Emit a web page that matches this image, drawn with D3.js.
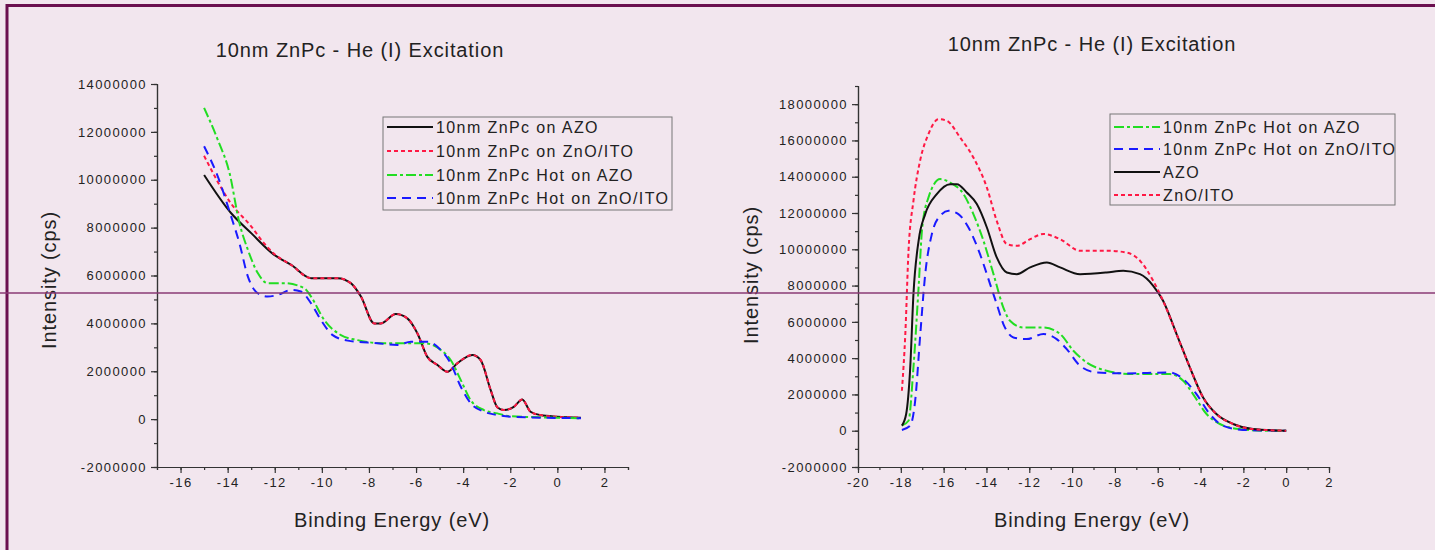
<!DOCTYPE html>
<head>
  <meta charset="utf-8">
  <script src="https://d3js.org/d3.v7.min.js"></script>
  <style>
    body { margin: 0; background: #f2e6ee; }
    text { font-family: 'Liberation Sans', Arial, sans-serif; fill: #222; }
    .tick text { font-size: 13px; letter-spacing: 1.4px; }
    .axis path, .axis line { stroke: #333; stroke-width: 1.2; }
    .title { font-size: 20px; letter-spacing: 0.9px; }
    .label { font-size: 20px; letter-spacing: 0.9px; }
    .legend text { font-size: 16px; letter-spacing: 1.4px; }
    .curve { fill: none; stroke-width: 2; }
  </style>
</head>
<body>
  <script>
    // values in millions of cps, x in eV
    var leftAzo = [[-15, 10.2], [-13.85, 8.6], [-13, 7.77], [-12.02, 6.86], [-11.3, 6.44], [-10.46, 5.89],
      [-9.33, 5.89], [-8.77, 5.68], [-8.34, 5.12], [-7.78, 4.0], [-7.5, 4.0], [-6.86, 4.39], [-6.37, 4.21],
      [-5.94, 3.58], [-5.52, 2.6], [-5.09, 2.26], [-4.67, 1.98], [-4.25, 2.33], [-3.61, 2.68], [-3.26, 2.47],
      [-2.83, 1.21], [-2.55, 0.5], [-2.27, 0.38], [-1.85, 0.51], [-1.49, 0.82], [-1.14, 0.31], [-0.72, 0.17],
      [0, 0.1], [1, 0.06]];
    var leftZnoIto = [[-15, 11.0], [-13.85, 9.0], [-13, 8.05], [-12.5, 7.4], [-12.02, 6.9], [-11.3, 6.44],
      [-10.46, 5.89], [-9.33, 5.89], [-8.77, 5.68], [-8.34, 5.12], [-7.78, 4.0], [-7.5, 4.0], [-6.86, 4.39],
      [-6.37, 4.21], [-5.94, 3.58], [-5.52, 2.6], [-5.09, 2.26], [-4.67, 1.98], [-4.25, 2.33], [-3.61, 2.68],
      [-3.26, 2.47], [-2.83, 1.21], [-2.55, 0.5], [-2.27, 0.38], [-1.85, 0.51], [-1.49, 0.82], [-1.14, 0.31],
      [-0.72, 0.17], [0, 0.1], [1, 0.06]];
    var leftHotAzo = [[-15, 13.0], [-14.42, 11.67], [-13.92, 10.28], [-13.5, 8.19], [-13.14, 7.07], [-12.72, 6.1],
      [-12.3, 5.68], [-11.6, 5.68], [-10.75, 5.47], [-10.46, 5.12], [-9.9, 4.14], [-9.19, 3.51], [-8.48, 3.3],
      [-7.36, 3.17], [-6.51, 3.17], [-5.66, 3.17], [-4.95, 2.89], [-4.53, 2.47], [-4.1, 1.63], [-3.68, 0.79],
      [-3.12, 0.38], [-2.55, 0.24], [-2, 0.12], [0, 0.06], [1, 0.04]];
    var leftHotZnoIto = [[-15, 11.4], [-14.42, 10.14], [-13.85, 8.46], [-13.5, 7.35], [-13.14, 5.95], [-12.72, 5.26],
      [-12.3, 5.12], [-11.87, 5.19], [-11.3, 5.4], [-10.89, 5.33], [-10.46, 4.84], [-10.04, 4.14], [-9.54, 3.51],
      [-8.9, 3.28], [-7.64, 3.17], [-6.79, 3.1], [-6.22, 3.23], [-5.52, 3.23], [-4.95, 2.89], [-4.53, 2.33],
      [-4.1, 1.35], [-3.68, 0.66], [-3.12, 0.31], [-2.55, 0.17], [-2, 0.1], [0, 0.05], [1, 0.04]];

    var rightHotAzo = [[-17.95, 0.28], [-17.64, 0.55], [-17.41, 3.49], [-17.17, 7.9], [-17.0, 11.2], [-16.71, 12.85],
      [-16.16, 13.87], [-15.7, 13.68], [-15.07, 13.04], [-14.61, 11.94], [-14.14, 10.47], [-13.67, 8.63],
      [-13.21, 6.79], [-12.9, 6.06], [-12.28, 5.69], [-11.34, 5.69], [-10.56, 5.33], [-9.94, 4.41], [-9.32, 3.76],
      [-8.39, 3.31], [-7.15, 3.12], [-5.43, 3.12], [-4.81, 2.75], [-4.35, 2.02], [-3.72, 0.92], [-3.1, 0.37],
      [-2.17, 0.09], [-0.92, 0.0], [0, 0.0]];
    var rightHotZnoIto = [[-17.95, 0.04], [-17.56, 0.28], [-17.33, 1.65], [-17.09, 5.33], [-16.86, 8.63], [-16.55, 10.84],
      [-16.16, 11.85], [-15.77, 12.12], [-15.31, 11.94], [-14.84, 11.2], [-14.3, 9.73], [-13.83, 8.08], [-13.52, 6.98],
      [-13.21, 5.88], [-12.74, 5.14], [-12.12, 5.05], [-11.34, 5.33], [-10.72, 5.05], [-10.25, 4.5], [-9.63, 3.58],
      [-8.85, 3.21], [-7.45, 3.16], [-5.43, 3.21], [-4.81, 2.85], [-4.19, 2.02], [-3.57, 0.92], [-2.95, 0.28],
      [-2.02, 0.04], [0, 0.0]];
    var rightAzo = [[-17.95, 0.28], [-17.75, 0.92], [-17.56, 3.49], [-17.41, 7.53], [-17.17, 10.47], [-16.86, 11.94],
      [-16.32, 13.04], [-15.7, 13.59], [-15.38, 13.59], [-14.92, 13.13], [-14.45, 12.49], [-13.98, 11.2], [-13.52, 9.55],
      [-13.05, 8.72], [-12.58, 8.63], [-11.96, 9.0], [-11.18, 9.27], [-10.56, 9.0], [-9.63, 8.63], [-8.39, 8.72],
      [-7.61, 8.82], [-6.83, 8.63], [-6.21, 7.99], [-5.75, 7.16], [-5.12, 5.33], [-4.5, 3.49], [-3.88, 1.83],
      [-3.26, 0.92], [-2.48, 0.37], [-1.55, 0.09], [0, 0.0]];
    var rightZnoIto = [[-17.95, 2.2], [-17.79, 5.33], [-17.64, 9.92], [-17.41, 12.67], [-17.1, 14.88], [-16.71, 16.35],
      [-16.24, 17.17], [-15.85, 17.08], [-15.23, 16.16], [-14.61, 15.06], [-13.98, 13.4], [-13.52, 11.57],
      [-13.05, 10.29], [-12.58, 10.19], [-11.96, 10.56], [-11.34, 10.84], [-10.56, 10.56], [-9.63, 9.92],
      [-8.39, 9.92], [-7.45, 9.82], [-6.83, 9.37], [-6.21, 8.26], [-5.75, 7.16], [-5.12, 5.33], [-4.5, 3.49],
      [-3.88, 1.83], [-3.26, 0.92], [-2.48, 0.37], [-1.55, 0.09], [0, 0.0]];

    var leftNames = ["10nm ZnPc on AZO", "10nm ZnPc on ZnO/ITO", "10nm ZnPc Hot on AZO", "10nm ZnPc Hot on ZnO/ITO"];
    var rightNames = ["10nm ZnPc Hot on AZO", "10nm ZnPc Hot on ZnO/ITO", "AZO", "ZnO/ITO"];
    var leftYTicks = [-2, 0, 2, 4, 6, 8, 10, 12, 14];
    var rightYTicks = [-2, 0, 2, 4, 6, 8, 10, 12, 14, 16, 18];
    var leftXTicks = [-16, -14, -12, -10, -8, -6, -4, -2, 0, 2];
    var rightXTicks = [-20, -18, -16, -14, -12, -10, -8, -6, -4, -2, 0, 2];

    var styles = {
      black: { color: "#111", dash: null },
      red: { color: "#ff1844", dash: "4,3" },
      green: { color: "#22dd22", dash: "10,3,3,3" },
      blue: { color: "#1a1aff", dash: "9,6" }
    };

    var svg = d3.select("body").append("svg")
        .attr("width", 1435)
        .attr("height", 550);

    svg.append("rect").attr("width", 1435).attr("height", 550).attr("fill", "#f2e6ee");

    var panels = [
      {
        left: 157, right: 628, top: 84, bottom: 467,
        xDomain: [-17, 3], yDomain: [-2, 14], xTicks: leftXTicks, yTicks: leftYTicks,
        title: [360, 57], xLabel: [392, 527], yLabel: [56, 280],
        series: [[leftAzo, "black"], [leftZnoIto, "red"], [leftHotAzo, "green"], [leftHotZnoIto, "blue"]],
        names: leftNames, box: [383, 117, 289, 93], rows: [127, 151, 175, 198]
      },
      {
        left: 858, right: 1329, top: 86, bottom: 467,
        xDomain: [-20, 2], yDomain: [-2, 19], xTicks: rightXTicks, yTicks: rightYTicks,
        title: [1092, 51], xLabel: [1092, 527], yLabel: [758, 275],
        series: [[rightHotAzo, "green"], [rightHotZnoIto, "blue"], [rightAzo, "black"], [rightZnoIto, "red"]],
        names: rightNames, box: [1110, 114, 285, 91], rows: [127, 149, 172, 195]
      }
    ];

    panels.forEach(function(p) {
      var x = d3.scaleLinear().domain(p.xDomain).range([p.left, p.right]);
      var y = d3.scaleLinear().domain(p.yDomain).range([p.bottom, p.top]);
      var fmt = function(d) { return String(d * 1000000); };

      // minor ticks
      var xMinor = d3.range(p.xDomain[0], p.xDomain[1] + 0.01, 1);
      var yMinor = d3.range(p.yDomain[0], p.yDomain[1] + 0.01, 1);

      svg.append("g").attr("class", "axis")
          .attr("transform", "translate(0," + p.bottom + ")")
          .call(d3.axisBottom(x).tickValues(xMinor).tickSize(3).tickFormat(""));
      svg.append("g").attr("class", "axis")
          .attr("transform", "translate(0," + p.bottom + ")")
          .call(d3.axisBottom(x).tickValues(p.xTicks).tickSize(6).tickSizeOuter(0).tickPadding(5).tickFormat(d3.format("d")))
          .selectAll("text").text(function(d) { return String(d); });

      svg.append("g").attr("class", "axis")
          .attr("transform", "translate(" + p.left + ",0)")
          .call(d3.axisLeft(y).tickValues(yMinor).tickSize(3).tickFormat(""));
      svg.append("g").attr("class", "axis")
          .attr("transform", "translate(" + p.left + ",0)")
          .call(d3.axisLeft(y).tickValues(p.yTicks).tickSize(6).tickSizeOuter(0).tickPadding(4).tickFormat(fmt));

      var line = d3.line()
          .x(function(d) { return x(d[0]); })
          .y(function(d) { return y(d[1]); })
          .curve(d3.curveMonotoneX);

      p.series.forEach(function(s) {
        var st = styles[s[1]];
        svg.append("path")
            .datum(s[0])
            .attr("class", "curve")
            .attr("d", line)
            .attr("stroke", st.color)
            .attr("stroke-dasharray", st.dash);
      });

      svg.append("text").attr("class", "title")
          .attr("x", p.title[0]).attr("y", p.title[1])
          .attr("text-anchor", "middle")
          .text("10nm ZnPc - He (I) Excitation");

      svg.append("text").attr("class", "label")
          .attr("x", p.xLabel[0]).attr("y", p.xLabel[1])
          .attr("text-anchor", "middle")
          .text("Binding Energy (eV)");

      svg.append("text").attr("class", "label")
          .attr("transform", "translate(" + p.yLabel[0] + "," + p.yLabel[1] + ") rotate(-90)")
          .attr("text-anchor", "middle")
          .text("Intensity (cps)");

      var lg = svg.append("g").attr("class", "legend");
      lg.append("rect")
          .attr("x", p.box[0]).attr("y", p.box[1])
          .attr("width", p.box[2]).attr("height", p.box[3])
          .attr("fill", "none").attr("stroke", "#777").attr("stroke-width", 1);

      p.series.forEach(function(s, i) {
        var st = styles[s[1]];
        var yy = p.rows[i];
        lg.append("line")
            .attr("x1", p.box[0] + 4).attr("x2", p.box[0] + 50)
            .attr("y1", yy).attr("y2", yy)
            .attr("stroke", st.color).attr("stroke-width", 2)
            .attr("stroke-dasharray", st.dash);
        lg.append("text")
            .attr("x", p.box[0] + 53).attr("y", yy + 6)
            .text(p.names[i]);
      });
    });

    // slide frame and guide line
    svg.append("line").attr("x1", 7).attr("x2", 1435).attr("y1", 5.5).attr("y2", 5.5)
        .attr("stroke", "#6b0f4f").attr("stroke-width", 3);
    svg.append("line").attr("x1", 7).attr("x2", 7).attr("y1", 4).attr("y2", 550)
        .attr("stroke", "#6b0f4f").attr("stroke-width", 3);
    svg.append("line").attr("x1", 0).attr("x2", 1435).attr("y1", 293).attr("y2", 293)
        .attr("stroke", "#8a3a74").attr("stroke-width", 1.5);
  </script>
</body>
